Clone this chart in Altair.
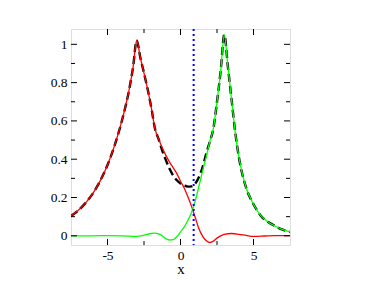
import altair as alt
import pandas as pd

# ---- data ----
red_x = [-7.5, -7, -6.5, -6, -5.5, -5, -4.5, -4, -3.5, -3.25, -3, -2.75, -2.5, -2.25, -2, -1.75,
         -1.5, -1.25, -1.0, -0.75, -0.5, -0.25, 0, 0.25, 0.5, 0.75, 1.0, 1.25, 1.5, 1.75, 2.0,
         2.25, 2.5, 2.75, 3.0, 3.5, 4.0, 4.5, 5.0, 5.5, 6, 6.5, 7, 7.5]
red_y = [0.103, 0.133, 0.172, 0.222, 0.287, 0.37, 0.475, 0.605, 0.77, 0.88, 1.02, 0.93, 0.85,
         0.765, 0.67, 0.56, 0.505, 0.46, 0.42, 0.385, 0.355, 0.325, 0.285, 0.25, 0.205, 0.155,
         0.098, 0.04, 0.0, -0.025, -0.035, -0.028, -0.012, 0.0, 0.008, 0.012, 0.008, 0.002,
         -0.003, -0.002, 0.0, 0.001, 0.001, 0.001]

green_x = [-7.5, -6, -5, -4, -3, -2.5, -2, -1.75, -1.5, -1.25, -1.0, -0.75, -0.5, -0.25, 0, 0.25,
           0.5, 0.75, 1.0, 1.25, 1.5, 1.75, 2.0, 2.25, 2.5, 2.75, 3.0, 3.25, 3.5, 3.75, 4.0, 4.5,
           5.0, 5.5, 6.0, 6.5, 7.0, 7.5]
green_y = [0.0, 0.0, 0.001, 0.0, -0.003, 0.003, 0.012, 0.014, 0.01, 0.0, -0.015, -0.022, -0.02,
           -0.005, 0.02, 0.045, 0.08, 0.12, 0.18, 0.255, 0.335, 0.41, 0.49, 0.56, 0.70, 0.86,
           1.05, 0.88, 0.71, 0.54, 0.41, 0.25, 0.165, 0.105, 0.072, 0.05, 0.032, 0.02]

dash_x = [-7.5, -7, -6.5, -6, -5.5, -5, -4.5, -4, -3.5, -3.25, -3, -2.75, -2.5, -2.25, -2, -1.75,
          -1.5, -1.25, -1.0, -0.75, -0.5, -0.25, 0, 0.25, 0.5, 0.75, 1.0, 1.25, 1.5, 1.75, 2.0,
          2.25, 2.5, 2.75, 3.0, 3.25, 3.5, 3.75, 4.0, 4.5, 5.0, 5.5, 6.0, 6.5, 7.0, 7.5]
dash_y = [0.103, 0.133, 0.172, 0.222, 0.287, 0.37, 0.475, 0.605, 0.77, 0.88, 1.02, 0.93, 0.85,
          0.765, 0.67, 0.56, 0.505, 0.445, 0.395, 0.35, 0.315, 0.29, 0.273, 0.263, 0.257, 0.258,
          0.272, 0.305, 0.355, 0.425, 0.49, 0.56, 0.70, 0.86, 1.05, 0.88, 0.71, 0.54, 0.41, 0.25,
          0.165, 0.105, 0.072, 0.05, 0.032, 0.02]

vline_x = [0.9]

x_major = [-5, 0, 5]
x_minor = [-2.5, 2.5]
y_major = [0, 0.2, 0.4, 0.6, 0.8, 1]
y_minor = [0.1, 0.3, 0.5, 0.7, 0.9]

W, H = 219, 216
FONT = "Liberation Serif"

xs = alt.Scale(domain=[-7.5, 7.5], nice=False, zero=False)
ys = alt.Scale(domain=[-0.048, 1.08], nice=False, zero=False)

red = pd.DataFrame({"x": red_x, "y": red_y})
green = pd.DataFrame({"x": green_x, "y": green_y})
dash = pd.DataFrame({"x": dash_x, "y": dash_y})

xaxis = alt.Axis(values=x_major, ticks=False, domain=False, grid=False, title="x",
                 labelFont=FONT, labelFontSize=13.5, labelColor="black", labelPadding=3,
                 titleFont=FONT, titleFontSize=15, titleFontWeight="normal", titleColor="black",
                 titlePadding=0,
                 labelExpr="replace(datum.label, '\u2212', '-')")
yaxis = alt.Axis(values=y_major, ticks=False, domain=False, grid=False, title="",
                 labelFont=FONT, labelFontSize=13.5, labelColor="black", labelPadding=4,
                 format="~g")

X = alt.X("x:Q", scale=xs, axis=xaxis)
Y = alt.Y("y:Q", scale=ys, axis=yaxis)

dashed = alt.Chart(dash).mark_line(color="black", strokeWidth=2.4, strokeDash=[8, 4],
                                   clip=True, interpolate="monotone").encode(x=X, y=Y)
red_l = alt.Chart(red).mark_line(color="#ff0000", strokeWidth=1.3, clip=True,
                                 interpolate="monotone").encode(x=X, y=Y)
green_l = alt.Chart(green).mark_line(color="#00ff00", strokeWidth=1.3, clip=True,
                                     interpolate="monotone").encode(x=X, y=Y)
blue_l = alt.Chart(pd.DataFrame({"x": vline_x})).mark_rule(
    color="#0000ff", strokeWidth=2, strokeDash=[2, 3]).encode(x=X)

def xticks(vals, L):
    df = pd.DataFrame({"x": vals})
    top = alt.Chart(df).mark_rule(color="black", strokeWidth=1).encode(
        x=X, y=alt.value(0), y2=alt.value(L))
    bot = alt.Chart(df).mark_rule(color="black", strokeWidth=1).encode(
        x=X, y=alt.value(H), y2=alt.value(H - L))
    return [top, bot]

def yticks(vals, L):
    df = pd.DataFrame({"y": vals})
    left = alt.Chart(df).mark_rule(color="black", strokeWidth=1).encode(
        y=Y, x=alt.value(0), x2=alt.value(L))
    right = alt.Chart(df).mark_rule(color="black", strokeWidth=1).encode(
        y=Y, x=alt.value(W), x2=alt.value(W - L))
    return [left, right]

ticks = xticks(x_major, 6) + xticks(x_minor, 4) + yticks(y_major, 6) + yticks(y_minor, 4)

chart = alt.layer(dashed, red_l, green_l, blue_l, *ticks).properties(
    width=W, height=H,
    autosize=alt.AutoSizeParams(type="none"),
    padding={"left": 63, "top": 21, "right": 76, "bottom": 36},
).configure_view(stroke="black", strokeWidth=1.5).configure(background="white")

chart.save("out.html", embed_options={"renderer": "svg", "actions": False})
